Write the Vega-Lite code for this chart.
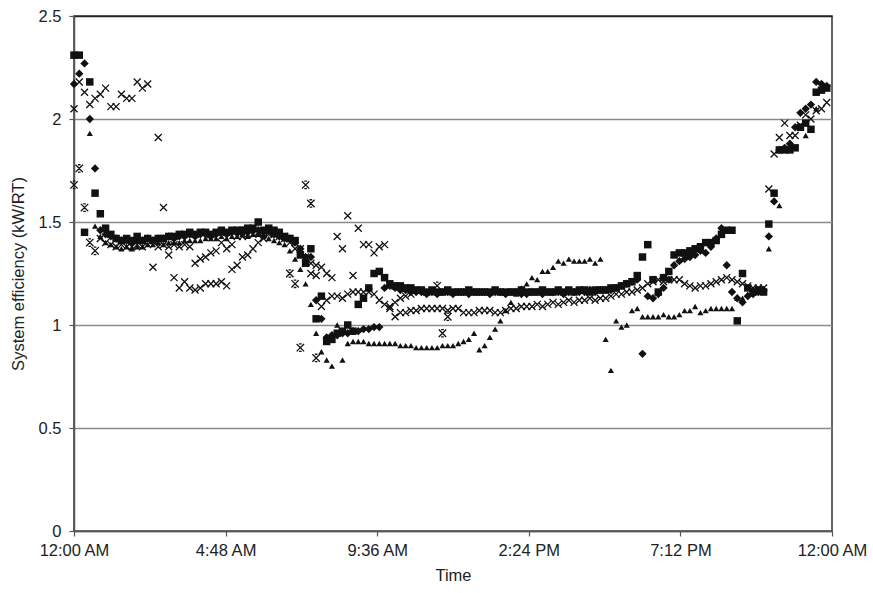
{
"$schema": "https://vega.github.io/schema/vega-lite/v6.json",
"width": 758, "height": 515,
"autosize": {"type": "none"},
"padding": {"left": 74, "top": 16, "right": 41, "bottom": 62},
"background": "white",
"config": {
  "font": "Liberation Sans",
  "view": {"stroke": "#333", "strokeWidth": 1.5},
  "axis": {"labelFont": "Liberation Sans", "titleFont": "Liberation Sans", "labelFontSize": 16.5, "titleFontSize": 16.5, "titleFontWeight": "normal", "labelColor": "#222", "titleColor": "#222", "domainColor": "#555", "domainWidth": 1.5, "tickColor": "#555", "tickSize": 5, "tickWidth": 1.2}
},
"data": {"values": [
{"s":"D","m":0,"v":2.17},{"s":"D","m":10,"v":2.22},{"s":"D","m":20,"v":2.27},{"s":"D","m":30,"v":2.00},{"s":"D","m":40,"v":1.76},{"s":"D","m":50,"v":1.46},{"s":"D","m":60,"v":1.44},{"s":"D","m":70,"v":1.43},{"s":"D","m":80,"v":1.42},{"s":"D","m":90,"v":1.41},{"s":"D","m":100,"v":1.41},{"s":"D","m":110,"v":1.40},{"s":"D","m":120,"v":1.41},{"s":"D","m":130,"v":1.41},{"s":"D","m":140,"v":1.42},{"s":"D","m":150,"v":1.41},{"s":"D","m":160,"v":1.42},{"s":"D","m":170,"v":1.42},{"s":"D","m":180,"v":1.43},{"s":"D","m":190,"v":1.42},{"s":"D","m":200,"v":1.43},{"s":"D","m":210,"v":1.43},{"s":"D","m":220,"v":1.44},{"s":"D","m":230,"v":1.43},{"s":"D","m":240,"v":1.44},{"s":"D","m":250,"v":1.44},{"s":"D","m":260,"v":1.43},{"s":"D","m":270,"v":1.44},{"s":"D","m":280,"v":1.45},{"s":"D","m":290,"v":1.44},{"s":"D","m":300,"v":1.45},{"s":"D","m":310,"v":1.45},{"s":"D","m":320,"v":1.46},{"s":"D","m":330,"v":1.45},{"s":"D","m":340,"v":1.46},{"s":"D","m":350,"v":1.46},{"s":"D","m":360,"v":1.45},{"s":"D","m":370,"v":1.46},{"s":"D","m":380,"v":1.44},{"s":"D","m":390,"v":1.43},{"s":"D","m":400,"v":1.42},{"s":"D","m":410,"v":1.42},{"s":"D","m":420,"v":1.40},{"s":"D","m":430,"v":1.37},{"s":"D","m":440,"v":1.33},{"s":"D","m":450,"v":1.33},{"s":"D","m":460,"v":1.12},{"s":"D","m":470,"v":1.03},{"s":"D","m":480,"v":0.94},{"s":"D","m":490,"v":0.95},{"s":"D","m":500,"v":0.95},{"s":"D","m":510,"v":0.96},{"s":"D","m":520,"v":0.96},{"s":"D","m":530,"v":0.97},{"s":"D","m":540,"v":0.97},{"s":"D","m":550,"v":0.98},{"s":"D","m":560,"v":0.98},{"s":"D","m":570,"v":0.99},{"s":"D","m":580,"v":0.99},{"s":"D","m":590,"v":1.18},{"s":"D","m":600,"v":1.19},{"s":"D","m":610,"v":1.18},
{"s":"D","m":620,"v":1.17},{"s":"D","m":630,"v":1.17},{"s":"D","m":640,"v":1.16},{"s":"D","m":650,"v":1.16},{"s":"D","m":660,"v":1.16},{"s":"D","m":670,"v":1.15},{"s":"D","m":680,"v":1.16},{"s":"D","m":690,"v":1.15},{"s":"D","m":700,"v":1.16},{"s":"D","m":710,"v":1.16},{"s":"D","m":720,"v":1.15},{"s":"D","m":730,"v":1.16},{"s":"D","m":740,"v":1.16},{"s":"D","m":750,"v":1.15},{"s":"D","m":760,"v":1.16},{"s":"D","m":770,"v":1.16},{"s":"D","m":780,"v":1.16},{"s":"D","m":790,"v":1.15},{"s":"D","m":800,"v":1.16},{"s":"D","m":810,"v":1.16},{"s":"D","m":820,"v":1.15},{"s":"D","m":830,"v":1.16},{"s":"D","m":840,"v":1.16},{"s":"D","m":850,"v":1.15},{"s":"D","m":860,"v":1.15},{"s":"D","m":870,"v":1.16},{"s":"D","m":880,"v":1.16},{"s":"D","m":890,"v":1.15},{"s":"D","m":900,"v":1.16},{"s":"D","m":910,"v":1.16},{"s":"D","m":920,"v":1.16},{"s":"D","m":930,"v":1.15},{"s":"D","m":940,"v":1.16},{"s":"D","m":950,"v":1.16},{"s":"D","m":960,"v":1.16},{"s":"D","m":970,"v":1.16},{"s":"D","m":980,"v":1.17},{"s":"D","m":990,"v":1.16},{"s":"D","m":1000,"v":1.17},
{"s":"D","m":1010,"v":1.17},{"s":"D","m":1020,"v":1.17},{"s":"D","m":1030,"v":1.18},{"s":"D","m":1040,"v":1.19},{"s":"D","m":1050,"v":1.20},{"s":"D","m":1060,"v":1.21},{"s":"D","m":1070,"v":1.22},{"s":"D","m":1080,"v":0.86},{"s":"D","m":1090,"v":1.14},{"s":"D","m":1100,"v":1.13},{"s":"D","m":1110,"v":1.15},{"s":"D","m":1120,"v":1.18},{"s":"D","m":1130,"v":1.22},{"s":"D","m":1140,"v":1.29},{"s":"D","m":1150,"v":1.31},{"s":"D","m":1160,"v":1.32},{"s":"D","m":1170,"v":1.33},{"s":"D","m":1180,"v":1.34},{"s":"D","m":1190,"v":1.36},{"s":"D","m":1200,"v":1.35},{"s":"D","m":1210,"v":1.38},{"s":"D","m":1220,"v":1.42},{"s":"D","m":1230,"v":1.47},{"s":"D","m":1240,"v":1.29},{"s":"D","m":1250,"v":1.16},{"s":"D","m":1260,"v":1.13},{"s":"D","m":1270,"v":1.11},{"s":"D","m":1280,"v":1.14},{"s":"D","m":1290,"v":1.15},{"s":"D","m":1300,"v":1.16},{"s":"D","m":1310,"v":1.17},{"s":"D","m":1320,"v":1.43},{"s":"D","m":1330,"v":1.60},{"s":"D","m":1340,"v":1.85},{"s":"D","m":1350,"v":1.86},{"s":"D","m":1360,"v":1.88},{"s":"D","m":1370,"v":1.96},{"s":"D","m":1380,"v":2.03},{"s":"D","m":1390,"v":2.05},{"s":"D","m":1400,"v":2.07},{"s":"D","m":1410,"v":2.18},{"s":"D","m":1420,"v":2.17},{"s":"D","m":1430,"v":2.16},
{"s":"S","m":0,"v":2.31},{"s":"S","m":10,"v":2.31},{"s":"S","m":20,"v":1.45},{"s":"S","m":30,"v":2.18},{"s":"S","m":40,"v":1.64},{"s":"S","m":50,"v":1.54},{"s":"S","m":60,"v":1.47},{"s":"S","m":70,"v":1.44},{"s":"S","m":80,"v":1.42},{"s":"S","m":90,"v":1.41},{"s":"S","m":100,"v":1.42},{"s":"S","m":110,"v":1.41},{"s":"S","m":120,"v":1.43},{"s":"S","m":130,"v":1.41},{"s":"S","m":140,"v":1.42},{"s":"S","m":150,"v":1.41},{"s":"S","m":160,"v":1.42},{"s":"S","m":170,"v":1.42},{"s":"S","m":180,"v":1.43},{"s":"S","m":190,"v":1.43},{"s":"S","m":200,"v":1.44},{"s":"S","m":210,"v":1.44},{"s":"S","m":220,"v":1.45},{"s":"S","m":230,"v":1.44},{"s":"S","m":240,"v":1.45},{"s":"S","m":250,"v":1.45},{"s":"S","m":260,"v":1.44},{"s":"S","m":270,"v":1.45},{"s":"S","m":280,"v":1.46},{"s":"S","m":290,"v":1.45},{"s":"S","m":300,"v":1.46},{"s":"S","m":310,"v":1.46},{"s":"S","m":320,"v":1.46},{"s":"S","m":330,"v":1.47},{"s":"S","m":340,"v":1.47},{"s":"S","m":350,"v":1.50},{"s":"S","m":360,"v":1.46},{"s":"S","m":370,"v":1.47},{"s":"S","m":380,"v":1.46},{"s":"S","m":390,"v":1.45},{"s":"S","m":400,"v":1.43},{"s":"S","m":410,"v":1.42},{"s":"S","m":420,"v":1.41},{"s":"S","m":430,"v":1.34},{"s":"S","m":440,"v":1.30},{"s":"S","m":450,"v":1.37},{"s":"S","m":460,"v":1.03},{"s":"S","m":470,"v":1.14},{"s":"S","m":480,"v":0.92},{"s":"S","m":490,"v":0.93},{"s":"S","m":500,"v":0.96},{"s":"S","m":510,"v":0.97},{"s":"S","m":520,"v":1.00},{"s":"S","m":530,"v":0.97},{"s":"S","m":540,"v":1.10},{"s":"S","m":550,"v":1.13},{"s":"S","m":560,"v":1.18},{"s":"S","m":570,"v":1.25},{"s":"S","m":580,"v":1.26},{"s":"S","m":590,"v":1.23},{"s":"S","m":600,"v":1.20},{"s":"S","m":610,"v":1.19},{"s":"S","m":620,"v":1.19},{"s":"S","m":630,"v":1.18},{"s":"S","m":640,"v":1.18},{"s":"S","m":650,"v":1.17},
{"s":"S","m":660,"v":1.17},{"s":"S","m":670,"v":1.16},{"s":"S","m":680,"v":1.17},{"s":"S","m":690,"v":1.16},{"s":"S","m":700,"v":1.16},{"s":"S","m":710,"v":1.17},{"s":"S","m":720,"v":1.16},{"s":"S","m":730,"v":1.16},{"s":"S","m":740,"v":1.16},{"s":"S","m":750,"v":1.17},{"s":"S","m":760,"v":1.16},{"s":"S","m":770,"v":1.16},{"s":"S","m":780,"v":1.16},{"s":"S","m":790,"v":1.16},{"s":"S","m":800,"v":1.17},{"s":"S","m":810,"v":1.16},{"s":"S","m":820,"v":1.16},{"s":"S","m":830,"v":1.16},{"s":"S","m":840,"v":1.16},{"s":"S","m":850,"v":1.17},{"s":"S","m":860,"v":1.16},{"s":"S","m":870,"v":1.16},{"s":"S","m":880,"v":1.16},{"s":"S","m":890,"v":1.17},{"s":"S","m":900,"v":1.16},{"s":"S","m":910,"v":1.16},{"s":"S","m":920,"v":1.17},{"s":"S","m":930,"v":1.16},{"s":"S","m":940,"v":1.17},{"s":"S","m":950,"v":1.16},{"s":"S","m":960,"v":1.17},{"s":"S","m":970,"v":1.17},{"s":"S","m":980,"v":1.16},{"s":"S","m":990,"v":1.17},{"s":"S","m":1000,"v":1.17},
{"s":"S","m":1010,"v":1.17},{"s":"S","m":1020,"v":1.18},{"s":"S","m":1030,"v":1.18},{"s":"S","m":1040,"v":1.19},{"s":"S","m":1050,"v":1.20},{"s":"S","m":1060,"v":1.21},{"s":"S","m":1070,"v":1.24},{"s":"S","m":1080,"v":1.33},{"s":"S","m":1090,"v":1.39},{"s":"S","m":1100,"v":1.22},{"s":"S","m":1110,"v":1.16},{"s":"S","m":1120,"v":1.23},{"s":"S","m":1130,"v":1.26},{"s":"S","m":1140,"v":1.34},{"s":"S","m":1150,"v":1.35},{"s":"S","m":1160,"v":1.35},{"s":"S","m":1170,"v":1.36},{"s":"S","m":1180,"v":1.37},{"s":"S","m":1190,"v":1.38},{"s":"S","m":1200,"v":1.40},{"s":"S","m":1210,"v":1.40},{"s":"S","m":1220,"v":1.41},{"s":"S","m":1230,"v":1.44},{"s":"S","m":1240,"v":1.46},{"s":"S","m":1250,"v":1.46},{"s":"S","m":1260,"v":1.02},{"s":"S","m":1270,"v":1.25},{"s":"S","m":1280,"v":1.18},{"s":"S","m":1290,"v":1.16},{"s":"S","m":1300,"v":1.17},{"s":"S","m":1310,"v":1.16},{"s":"S","m":1320,"v":1.49},{"s":"S","m":1330,"v":1.64},{"s":"S","m":1340,"v":1.85},{"s":"S","m":1350,"v":1.85},{"s":"S","m":1360,"v":1.85},{"s":"S","m":1370,"v":1.86},{"s":"S","m":1380,"v":1.96},{"s":"S","m":1390,"v":1.98},{"s":"S","m":1400,"v":1.95},{"s":"S","m":1410,"v":2.13},{"s":"S","m":1420,"v":2.14},{"s":"S","m":1430,"v":2.15},
{"s":"T","m":30,"v":1.93},{"s":"T","m":40,"v":1.48},{"s":"T","m":50,"v":1.43},{"s":"T","m":60,"v":1.40},{"s":"T","m":70,"v":1.39},{"s":"T","m":80,"v":1.38},{"s":"T","m":90,"v":1.37},{"s":"T","m":100,"v":1.38},{"s":"T","m":110,"v":1.37},{"s":"T","m":120,"v":1.38},{"s":"T","m":130,"v":1.38},{"s":"T","m":140,"v":1.39},{"s":"T","m":150,"v":1.39},{"s":"T","m":160,"v":1.40},{"s":"T","m":170,"v":1.39},{"s":"T","m":180,"v":1.40},{"s":"T","m":190,"v":1.40},{"s":"T","m":200,"v":1.40},{"s":"T","m":210,"v":1.41},{"s":"T","m":220,"v":1.41},{"s":"T","m":230,"v":1.41},{"s":"T","m":240,"v":1.41},{"s":"T","m":250,"v":1.42},{"s":"T","m":260,"v":1.42},{"s":"T","m":270,"v":1.42},{"s":"T","m":280,"v":1.43},{"s":"T","m":290,"v":1.42},{"s":"T","m":300,"v":1.43},{"s":"T","m":310,"v":1.43},{"s":"T","m":320,"v":1.44},{"s":"T","m":330,"v":1.43},{"s":"T","m":340,"v":1.44},{"s":"T","m":350,"v":1.44},{"s":"T","m":360,"v":1.43},{"s":"T","m":370,"v":1.42},{"s":"T","m":380,"v":1.41},{"s":"T","m":390,"v":1.40},{"s":"T","m":400,"v":1.39},{"s":"T","m":410,"v":1.36},{"s":"T","m":420,"v":1.32},{"s":"T","m":430,"v":1.27},{"s":"T","m":440,"v":1.20},{"s":"T","m":450,"v":1.10},{"s":"T","m":460,"v":0.96},{"s":"T","m":470,"v":0.87},{"s":"T","m":480,"v":0.83},{"s":"T","m":490,"v":0.80},{"s":"T","m":500,"v":1.00},{"s":"T","m":510,"v":0.83},{"s":"T","m":520,"v":0.91},{"s":"T","m":530,"v":0.92},{"s":"T","m":540,"v":0.92},{"s":"T","m":550,"v":0.92},{"s":"T","m":560,"v":0.91},{"s":"T","m":570,"v":0.91},{"s":"T","m":580,"v":0.91},{"s":"T","m":590,"v":0.91},{"s":"T","m":600,"v":0.91},{"s":"T","m":610,"v":0.91},{"s":"T","m":620,"v":0.90},{"s":"T","m":630,"v":0.90},{"s":"T","m":640,"v":0.90},{"s":"T","m":650,"v":0.89},{"s":"T","m":660,"v":0.89},{"s":"T","m":670,"v":0.89},{"s":"T","m":680,"v":0.89},{"s":"T","m":690,"v":0.89},{"s":"T","m":700,"v":0.90},{"s":"T","m":710,"v":0.90},{"s":"T","m":720,"v":0.90},{"s":"T","m":730,"v":0.91},{"s":"T","m":740,"v":0.92},{"s":"T","m":750,"v":0.93},{"s":"T","m":760,"v":0.96},{"s":"T","m":770,"v":0.88},{"s":"T","m":780,"v":0.90},{"s":"T","m":790,"v":0.94},{"s":"T","m":800,"v":0.98},{"s":"T","m":810,"v":1.02},{"s":"T","m":820,"v":1.07},{"s":"T","m":830,"v":1.11},{"s":"T","m":840,"v":1.15},{"s":"T","m":850,"v":1.18},{"s":"T","m":860,"v":1.20},{"s":"T","m":870,"v":1.23},{"s":"T","m":880,"v":1.22},{"s":"T","m":890,"v":1.26},{"s":"T","m":900,"v":1.26},{"s":"T","m":910,"v":1.28},{"s":"T","m":920,"v":1.31},{"s":"T","m":930,"v":1.30},{"s":"T","m":940,"v":1.32},{"s":"T","m":950,"v":1.31},{"s":"T","m":960,"v":1.31},{"s":"T","m":970,"v":1.31},{"s":"T","m":980,"v":1.32},{"s":"T","m":990,"v":1.30},{"s":"T","m":1000,"v":1.32},{"s":"T","m":1010,"v":0.93},{"s":"T","m":1020,"v":0.78},{"s":"T","m":1030,"v":1.02},{"s":"T","m":1040,"v":0.99},{"s":"T","m":1050,"v":1.00},{"s":"T","m":1060,"v":1.07},{"s":"T","m":1070,"v":1.08},{"s":"T","m":1080,"v":1.04},{"s":"T","m":1090,"v":1.04},{"s":"T","m":1100,"v":1.04},{"s":"T","m":1110,"v":1.04},{"s":"T","m":1120,"v":1.05},{"s":"T","m":1130,"v":1.04},{"s":"T","m":1140,"v":1.04},{"s":"T","m":1150,"v":1.05},{"s":"T","m":1160,"v":1.07},{"s":"T","m":1170,"v":1.07},{"s":"T","m":1180,"v":1.09},{"s":"T","m":1190,"v":1.06},{"s":"T","m":1200,"v":1.07},{"s":"T","m":1210,"v":1.08},{"s":"T","m":1220,"v":1.08},{"s":"T","m":1230,"v":1.08},{"s":"T","m":1240,"v":1.08},{"s":"T","m":1250,"v":1.08},{"s":"T","m":1260,"v":1.13},{"s":"T","m":1270,"v":1.13},{"s":"T","m":1280,"v":1.15},{"s":"T","m":1290,"v":1.16},{"s":"T","m":1320,"v":1.37},{"s":"T","m":1340,"v":1.58},{"s":"T","m":1390,"v":1.92},{"s":"T","m":1410,"v":2.05},
{"s":"X","m":0,"v":2.05},{"s":"X","m":10,"v":2.18},{"s":"X","m":20,"v":2.13},{"s":"X","m":30,"v":2.07},{"s":"X","m":40,"v":2.10},{"s":"X","m":50,"v":2.12},{"s":"X","m":60,"v":2.15},{"s":"X","m":70,"v":2.06},{"s":"X","m":80,"v":2.06},{"s":"X","m":90,"v":2.12},{"s":"X","m":100,"v":2.10},{"s":"X","m":110,"v":2.10},{"s":"X","m":120,"v":2.18},{"s":"X","m":130,"v":2.15},{"s":"X","m":140,"v":2.17},{"s":"X","m":160,"v":1.91},{"s":"X","m":170,"v":1.57},{"s":"X","m":180,"v":1.34},{"s":"X","m":190,"v":1.23},{"s":"X","m":200,"v":1.18},{"s":"X","m":210,"v":1.21},{"s":"X","m":220,"v":1.18},{"s":"X","m":230,"v":1.17},{"s":"X","m":240,"v":1.18},{"s":"X","m":250,"v":1.20},{"s":"X","m":260,"v":1.20},{"s":"X","m":270,"v":1.20},{"s":"X","m":280,"v":1.21},{"s":"X","m":290,"v":1.19},{"s":"X","m":300,"v":1.27},{"s":"X","m":310,"v":1.29},{"s":"X","m":320,"v":1.33},{"s":"X","m":330,"v":1.34},{"s":"X","m":340,"v":1.37},{"s":"X","m":350,"v":1.40},{"s":"X","m":360,"v":1.42},{"s":"X","m":370,"v":1.44},{"s":"X","m":380,"v":1.45},{"s":"X","m":390,"v":1.44},{"s":"X","m":400,"v":1.43},{"s":"X","m":410,"v":1.42},{"s":"X","m":420,"v":1.40},{"s":"X","m":430,"v":1.37},{"s":"X","m":440,"v":1.33},{"s":"X","m":450,"v":1.30},{"s":"X","m":460,"v":1.29},{"s":"X","m":470,"v":1.28},{"s":"X","m":480,"v":1.25},{"s":"X","m":490,"v":1.23},{"s":"X","m":500,"v":1.43},{"s":"X","m":510,"v":1.37},{"s":"X","m":520,"v":1.53},{"s":"X","m":530,"v":1.24},{"s":"X","m":540,"v":1.47},{"s":"X","m":550,"v":1.39},{"s":"X","m":560,"v":1.39},{"s":"X","m":570,"v":1.35},{"s":"X","m":580,"v":1.38},{"s":"X","m":590,"v":1.39},{"s":"X","m":600,"v":1.09},{"s":"X","m":610,"v":1.11},{"s":"X","m":620,"v":1.13},{"s":"X","m":630,"v":1.14},{"s":"X","m":640,"v":1.15},
{"s":"Y","m":50,"v":1.42},{"s":"Y","m":60,"v":1.40},{"s":"Y","m":70,"v":1.39},{"s":"Y","m":80,"v":1.38},{"s":"Y","m":90,"v":1.39},{"s":"Y","m":100,"v":1.38},{"s":"Y","m":110,"v":1.38},{"s":"Y","m":120,"v":1.39},{"s":"Y","m":130,"v":1.38},{"s":"Y","m":140,"v":1.39},{"s":"Y","m":150,"v":1.28},{"s":"Y","m":160,"v":1.38},{"s":"Y","m":170,"v":1.39},{"s":"Y","m":180,"v":1.38},{"s":"Y","m":190,"v":1.39},{"s":"Y","m":200,"v":1.38},{"s":"Y","m":210,"v":1.39},{"s":"Y","m":220,"v":1.38},{"s":"Y","m":230,"v":1.30},{"s":"Y","m":240,"v":1.32},{"s":"Y","m":250,"v":1.33},{"s":"Y","m":260,"v":1.35},{"s":"Y","m":270,"v":1.36},{"s":"Y","m":280,"v":1.40},{"s":"Y","m":290,"v":1.37},{"s":"Y","m":300,"v":1.39},{"s":"Y","m":310,"v":1.43},{"s":"Y","m":320,"v":1.43},{"s":"Y","m":330,"v":1.44},{"s":"Y","m":340,"v":1.44},{"s":"Y","m":350,"v":1.45},{"s":"Y","m":360,"v":1.44},{"s":"Y","m":370,"v":1.45},{"s":"Y","m":380,"v":1.44},{"s":"Y","m":390,"v":1.43},{"s":"Y","m":400,"v":1.42},{"s":"Y","m":410,"v":1.40},{"s":"Y","m":420,"v":1.37},{"s":"Y","m":430,"v":1.34},{"s":"Y","m":440,"v":1.30},{"s":"Y","m":450,"v":1.25},{"s":"Y","m":460,"v":1.24},{"s":"Y","m":470,"v":1.09},{"s":"Y","m":480,"v":1.12},{"s":"Y","m":490,"v":1.14},{"s":"Y","m":500,"v":1.14},{"s":"Y","m":510,"v":1.13},{"s":"Y","m":520,"v":1.15},{"s":"Y","m":530,"v":1.16},{"s":"Y","m":540,"v":1.16},{"s":"Y","m":550,"v":1.16},{"s":"Y","m":560,"v":1.16},{"s":"Y","m":570,"v":1.15},{"s":"Y","m":580,"v":1.12},{"s":"Y","m":590,"v":1.10},{"s":"Y","m":600,"v":1.08},{"s":"Y","m":610,"v":1.04},{"s":"Y","m":620,"v":1.06},{"s":"Y","m":630,"v":1.06},{"s":"Y","m":640,"v":1.07},{"s":"Y","m":650,"v":1.07},{"s":"Y","m":660,"v":1.08},{"s":"Y","m":670,"v":1.08},{"s":"Y","m":680,"v":1.08},{"s":"Y","m":690,"v":1.08},{"s":"Y","m":700,"v":1.08},{"s":"Y","m":710,"v":1.07},{"s":"Y","m":720,"v":1.08},{"s":"Y","m":730,"v":1.08},{"s":"Y","m":740,"v":1.06},{"s":"Y","m":750,"v":1.06},{"s":"Y","m":760,"v":1.06},{"s":"Y","m":770,"v":1.07},{"s":"Y","m":780,"v":1.07},{"s":"Y","m":790,"v":1.07},{"s":"Y","m":800,"v":1.06},{"s":"Y","m":810,"v":1.06},{"s":"Y","m":820,"v":1.07},{"s":"Y","m":830,"v":1.08},{"s":"Y","m":840,"v":1.08},{"s":"Y","m":850,"v":1.09},{"s":"Y","m":860,"v":1.09},{"s":"Y","m":870,"v":1.09},{"s":"Y","m":880,"v":1.10},{"s":"Y","m":890,"v":1.09},{"s":"Y","m":900,"v":1.10},{"s":"Y","m":910,"v":1.11},{"s":"Y","m":920,"v":1.10},{"s":"Y","m":930,"v":1.11},{"s":"Y","m":940,"v":1.12},{"s":"Y","m":950,"v":1.11},{"s":"Y","m":960,"v":1.12},{"s":"Y","m":970,"v":1.12},{"s":"Y","m":980,"v":1.13},{"s":"Y","m":990,"v":1.12},{"s":"Y","m":1000,"v":1.13},{"s":"Y","m":1010,"v":1.13},{"s":"Y","m":1020,"v":1.14},{"s":"Y","m":1030,"v":1.15},{"s":"Y","m":1040,"v":1.15},{"s":"Y","m":1050,"v":1.16},{"s":"Y","m":1060,"v":1.16},{"s":"Y","m":1070,"v":1.17},{"s":"Y","m":1080,"v":1.18},{"s":"Y","m":1090,"v":1.20},{"s":"Y","m":1100,"v":1.21},{"s":"Y","m":1110,"v":1.22},{"s":"Y","m":1120,"v":1.21},{"s":"Y","m":1130,"v":1.22},{"s":"Y","m":1140,"v":1.22},{"s":"Y","m":1150,"v":1.22},{"s":"Y","m":1160,"v":1.20},{"s":"Y","m":1170,"v":1.19},{"s":"Y","m":1180,"v":1.18},{"s":"Y","m":1190,"v":1.19},{"s":"Y","m":1200,"v":1.19},{"s":"Y","m":1210,"v":1.20},{"s":"Y","m":1220,"v":1.21},{"s":"Y","m":1230,"v":1.22},{"s":"Y","m":1240,"v":1.23},{"s":"Y","m":1250,"v":1.22},{"s":"Y","m":1260,"v":1.21},{"s":"Y","m":1270,"v":1.20},{"s":"Y","m":1280,"v":1.19},{"s":"Y","m":1290,"v":1.18},{"s":"Y","m":1300,"v":1.18},{"s":"Y","m":1310,"v":1.18},{"s":"Y","m":1320,"v":1.66},{"s":"Y","m":1330,"v":1.83},{"s":"Y","m":1340,"v":1.91},{"s":"Y","m":1350,"v":1.98},{"s":"Y","m":1360,"v":1.92},{"s":"Y","m":1370,"v":1.92},{"s":"Y","m":1380,"v":1.97},{"s":"Y","m":1390,"v":2.02},{"s":"Y","m":1400,"v":2.00},{"s":"Y","m":1410,"v":2.04},{"s":"Y","m":1420,"v":2.05},{"s":"Y","m":1430,"v":2.08},
{"s":"Z","m":0,"v":1.68},{"s":"Z","m":10,"v":1.76},{"s":"Z","m":20,"v":1.57},{"s":"Z","m":30,"v":1.40},{"s":"Z","m":40,"v":1.36},{"s":"Z","m":410,"v":1.25},{"s":"Z","m":420,"v":1.20},{"s":"Z","m":430,"v":0.89},{"s":"Z","m":440,"v":1.68},{"s":"Z","m":450,"v":1.59},{"s":"Z","m":460,"v":0.84},{"s":"Z","m":690,"v":1.19},{"s":"Z","m":700,"v":0.96},{"s":"Z","m":710,"v":1.04}
]},
"encoding": {
  "x": {"field": "m", "type": "quantitative", "scale": {"domain": [0, 1440], "nice": false, "zero": false},
        "axis": {"values": [0, 288, 576, 864, 1152, 1440], "labelExpr": "timeFormat(datetime(2000,0,1,0,datum.value),'%-I:%M %p')", "grid": false, "title": "Time", "labelPadding": 6, "titlePadding": 9, "labelFlush": false, "labelOverlap": false}},
  "y": {"field": "v", "type": "quantitative", "scale": {"domain": [0, 2.5], "nice": false},
        "axis": {"values": [0, 0.5, 1, 1.5, 2, 2.5], "format": "~g", "grid": true, "gridColor": {"condition": {"test": "datum.value >= 2.5", "value": "#222"}, "value": "#8a8a8a"}, "gridWidth": 1.3, "title": "System efficiency (kW/RT)", "labelPadding": 8, "titlePadding": 12}}
},
"layer": [
  {"transform": [{"filter": "datum.s === 'D'"}], "mark": {"type": "point", "shape": "diamond", "filled": true, "color": "#111", "opacity": 1, "size": 70}},
  {"transform": [{"filter": "datum.s === 'S'"}], "mark": {"type": "point", "shape": "square", "filled": true, "color": "#111", "opacity": 1, "size": 56}},
  {"transform": [{"filter": "datum.s === 'T'"}], "mark": {"type": "point", "shape": "triangle-up", "filled": true, "color": "#111", "opacity": 1, "size": 38}},
  {"transform": [{"filter": "datum.s === 'X' || datum.s === 'Y'"}], "mark": {"type": "point", "shape": "M-1,-1L1,1M-1,1L1,-1", "filled": false, "color": "#111", "opacity": 1, "size": 49, "strokeWidth": 1.3}},
  {"transform": [{"filter": "datum.s === 'Z'"}], "mark": {"type": "point", "shape": "M-1,-1L1,1M-1,1L1,-1M-0.35,-1L0.35,-1M-0.35,1L0.35,1", "filled": false, "color": "#111", "opacity": 1, "size": 55, "strokeWidth": 1.3}}
]
}
